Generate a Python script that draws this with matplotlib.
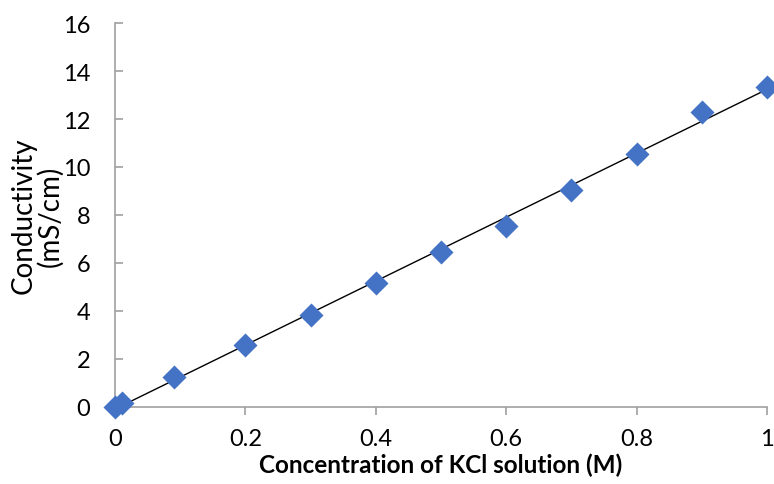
import matplotlib
matplotlib.use("Agg")
import matplotlib.pyplot as plt
import numpy as np

conc = [0.0, 0.01, 0.09, 0.2, 0.3, 0.4, 0.5, 0.6, 0.7, 0.8, 0.9, 1.0]
cond = [0.0, 0.15, 1.25, 2.6, 3.85, 5.15, 6.45, 7.55, 9.05, 10.55, 12.3, 13.35]
xticks = [0, 0.2, 0.4, 0.6, 0.8, 1]
xticklabels = ["0", "0.2", "0.4", "0.6", "0.8", "1"]
yticks = [0, 2, 4, 6, 8, 10, 12, 14, 16]

plt.rcParams['font.family'] = ['Lato', 'DejaVu Sans']

fig = plt.figure(figsize=(7.74, 4.85), dpi=100)
ax = fig.add_axes([0.1486, 0.1588, 0.8424, 0.7917])

x = np.array(conc)
y = np.array(cond)
m, b = np.polyfit(x, y, 1)
xf = np.array([x.min(), x.max()])
ax.plot(xf, m * xf + b, color='black', lw=1.0, zorder=2)
ax.scatter(x, y, marker='D', s=150, color='#4472C4', zorder=3, clip_on=False, linewidths=0)

ax.set_xlim(0, 1)
ax.set_ylim(0, 16)
ax.set_xticks(xticks)
ax.set_xticklabels(xticklabels)
ax.set_yticks(yticks)
for s in ['top', 'right']:
    ax.spines[s].set_visible(False)
for s in ['left', 'bottom']:
    ax.spines[s].set_color('#A0A0A0')
    ax.spines[s].set_linewidth(1.2)
ax.tick_params(axis='both', length=6, width=1.2, color='#A0A0A0',
               labelsize=17, labelcolor='black')
ax.tick_params(axis='x', direction='out', pad=9)
ax.tick_params(axis='y', direction='in', pad=18)

ax.set_xlabel('Concentration of KCl solution (M)', fontsize=17.5, fontweight='bold', labelpad=3)
ax.set_ylabel('Conductivity\n(mS/cm)', fontsize=20, labelpad=-1, linespacing=1.0)

fig.savefig('out.png', dpi=100)
